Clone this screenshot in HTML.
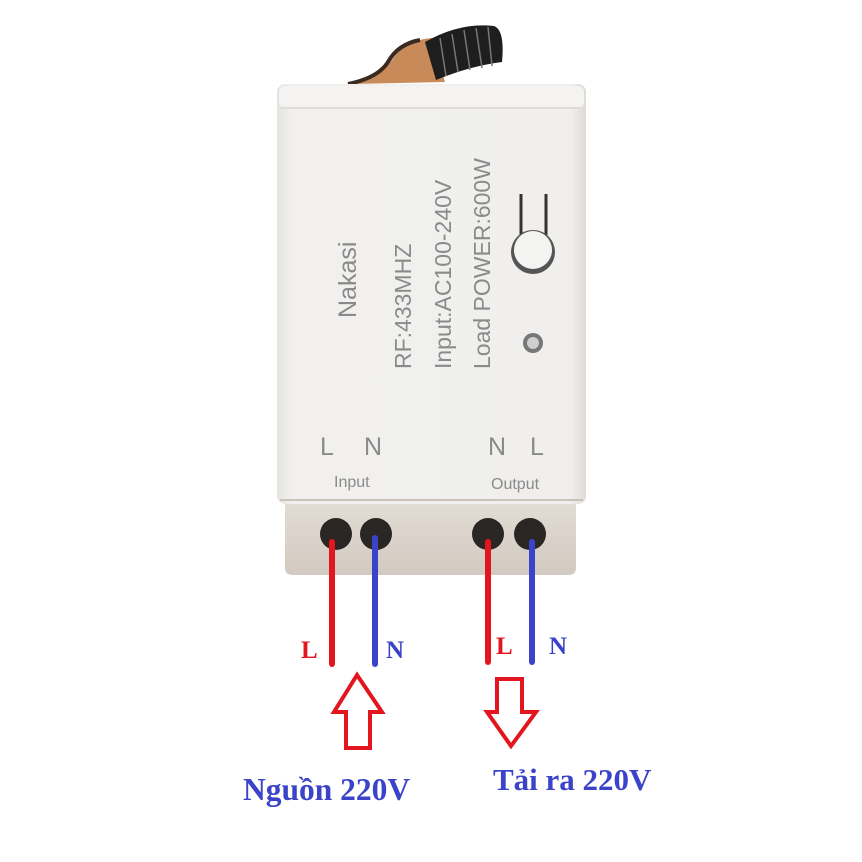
<!DOCTYPE html>
<html><head><meta charset="utf-8"><style>body{margin:0;background:#fff}svg{display:block}</style></head>
<body>
<svg width="862" height="862" viewBox="0 0 862 862" xmlns="http://www.w3.org/2000/svg">
<defs>
<linearGradient id="bx" x1="0" x2="1"><stop offset="0" stop-color="#e6e4e1"/><stop offset="0.05" stop-color="#f1f0ee"/><stop offset="0.95" stop-color="#f0efed"/><stop offset="1" stop-color="#dddad6"/></linearGradient>
<linearGradient id="bt" x1="0" y1="0" x2="0" y2="1"><stop offset="0" stop-color="#e3ddd6"/><stop offset="1" stop-color="#d2c9c0"/></linearGradient>
</defs>
<path d="M350 84 Q380 78 392 60 Q405 40 432 38 L445 82 Z" fill="#c98a5a"/>
<path d="M348 84 Q378 78 388 62 Q398 44 420 40" stroke="#3a2a20" stroke-width="4" fill="none"/>
<path d="M425 42 Q460 22 494 26 Q505 30 502 62 Q470 66 436 80 Z" fill="#1e1e1e"/>
<g stroke="#777" stroke-width="1.5">
<line x1="440" y1="38" x2="446" y2="76"/><line x1="452" y1="34" x2="458" y2="72"/><line x1="464" y1="30" x2="470" y2="70"/><line x1="476" y1="28" x2="482" y2="68"/><line x1="488" y1="27" x2="492" y2="66"/></g>
<path d="M285 500 L576 500 L576 568 Q576 575 568 575 L293 575 Q285 575 285 568 Z" fill="url(#bt)"/>
<rect x="277" y="84" width="309" height="420" rx="8" fill="url(#bx)"/>
<rect x="279" y="86" width="305" height="22" rx="6" fill="#f4f3f2"/>
<line x1="280" y1="108" x2="583" y2="108" stroke="#dedbd8" stroke-width="2"/>
<line x1="280" y1="500" x2="583" y2="500" stroke="#c8c2bb" stroke-width="2"/>
<g fill="#8a8a8a" font-family="Liberation Sans, sans-serif">
<text transform="translate(356,318) rotate(-90)" font-size="25">Nakasi</text>
<text transform="translate(411,369) rotate(-90)" font-size="23">RF:433MHZ</text>
<text transform="translate(451,369) rotate(-90)" font-size="23">Input:AC100-240V</text>
<text transform="translate(490,369) rotate(-90)" font-size="23">Load POWER:600W</text>
<text x="320" y="455" font-size="25">L</text>
<text x="364" y="455" font-size="25">N</text>
<text x="488" y="455" font-size="25">N</text>
<text x="530" y="455" font-size="25">L</text>
<text x="334" y="487" font-size="16">Input</text>
<text x="491" y="489" font-size="16">Output</text>
</g>
<line x1="521" y1="194" x2="521" y2="238" stroke="#333" stroke-width="3"/>
<line x1="546" y1="194" x2="546" y2="238" stroke="#333" stroke-width="3"/>
<circle cx="533" cy="252" r="22" fill="#555"/>
<circle cx="533" cy="250" r="19" fill="#f3f3f1"/>
<circle cx="533" cy="343" r="10" fill="#777"/>
<circle cx="533" cy="343" r="6" fill="#cfcfcf"/>
<g fill="#2a2624"><circle cx="336" cy="534" r="16"/><circle cx="376" cy="534" r="16"/><circle cx="488" cy="534" r="16"/><circle cx="530" cy="534" r="16"/></g>
<g stroke-width="6" stroke-linecap="round">
<line x1="332" y1="542" x2="332" y2="664" stroke="#e3161f"/>
<line x1="375" y1="538" x2="375" y2="664" stroke="#3b44c8"/>
<line x1="488" y1="542" x2="488" y2="662" stroke="#e3161f"/>
<line x1="532" y1="542" x2="532" y2="662" stroke="#3b44c8"/>
</g>
<g font-family="Liberation Serif, serif" font-weight="bold" font-size="25">
<text x="301" y="658" fill="#e3161f">L</text>
<text x="386" y="658" fill="#3b44c8">N</text>
<text x="496" y="654" fill="#e3161f">L</text>
<text x="549" y="654" fill="#3b44c8">N</text>
</g>
<path d="M357 675 L382 712 L370 712 L370 748 L346 748 L346 712 L334 712 Z" fill="none" stroke="#e3161f" stroke-width="4"/>
<path d="M497 679 L522 679 L522 712 L536 712 L511 746 L487 712 L497 712 Z" fill="none" stroke="#e3161f" stroke-width="4"/>
<g font-family="Liberation Serif, serif" font-weight="bold" fill="#3b44c8">
<text x="243" y="800" font-size="31.5">Nguồn 220V</text>
<text x="493" y="790" font-size="31">Tải ra 220V</text>
</g>
</svg>
</body></html>
